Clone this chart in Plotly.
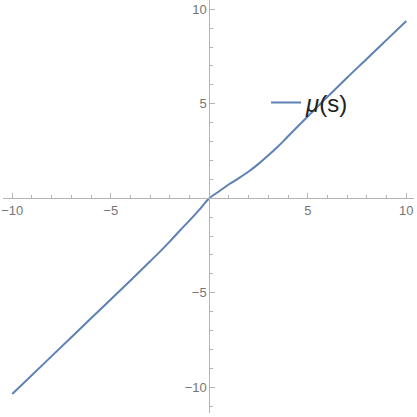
import plotly.graph_objects as go

# values
s_vals = [-10, -8, -6, -4, -3, -2.5, -2, -1.5, -1, -0.5, 0,
          0.5, 1, 1.5, 2, 2.5, 3, 3.5, 4, 5, 6, 7, 8, 9, 10]
mu_vals = [-10.35, -8.35, -6.35, -4.35, -3.33, -2.82, -2.28, -1.72, -1.17, -0.6, 0.0,
           0.37, 0.74, 1.07, 1.42, 1.82, 2.27, 2.75, 3.28, 4.33, 5.37, 6.39, 7.38, 8.38, 9.38]

tick_vals = [-10, -5, 5, 10]
tick_text = ["\u221210", "\u22125", "5", "10"]

x_range = [-10.47, 10.39]
y_range = [-11.36, 10.49]

axis_color = "#b3b3b3"
label_color = "#767676"

fig = go.Figure()
fig.add_trace(go.Scatter(
    x=s_vals, y=mu_vals,
    mode="lines",
    name="<i>\u03bc</i>(s)",
    line=dict(color="#5e81b5", width=2, shape="spline", smoothing=1),
))

# axes crossing at the origin, Mathematica style
x_pos = (0 - y_range[0]) / (y_range[1] - y_range[0])
y_pos = (0 - x_range[0]) / (x_range[1] - x_range[0])

axis_style = dict(
    anchor="free", automargin=False,
    showline=True, linecolor=axis_color, linewidth=1,
    showgrid=False, zeroline=False,
    tickmode="array", tickvals=tick_vals, ticktext=tick_text,
    ticks="inside", ticklen=5, tickcolor=axis_color,
    tickfont=dict(size=13, color=label_color),
    minor=dict(dtick=1, ticks="inside", ticklen=3, tickcolor=axis_color),
)

fig.update_layout(
    width=417, height=417,
    margin=dict(l=3, r=3, t=0, b=4, autoexpand=False),
    paper_bgcolor="white",
    plot_bgcolor="white",
    font=dict(family="Liberation Sans, Arial, sans-serif"),
    showlegend=True,
    legend=dict(
        x=0.64, y=0.751, xanchor="left", yanchor="middle",
        bgcolor="rgba(0,0,0,0)",
        font=dict(size=24, color="#222222"),
    ),
    xaxis=dict(range=x_range, position=x_pos, **axis_style),
    yaxis=dict(range=y_range, position=y_pos, **axis_style),
)

# drop the default page margin so the chart sits at the window corner
fig.write_html(
    "out.html",
    config={"displayModeBar": False},
    post_script="document.body.style.margin='0';",
)
